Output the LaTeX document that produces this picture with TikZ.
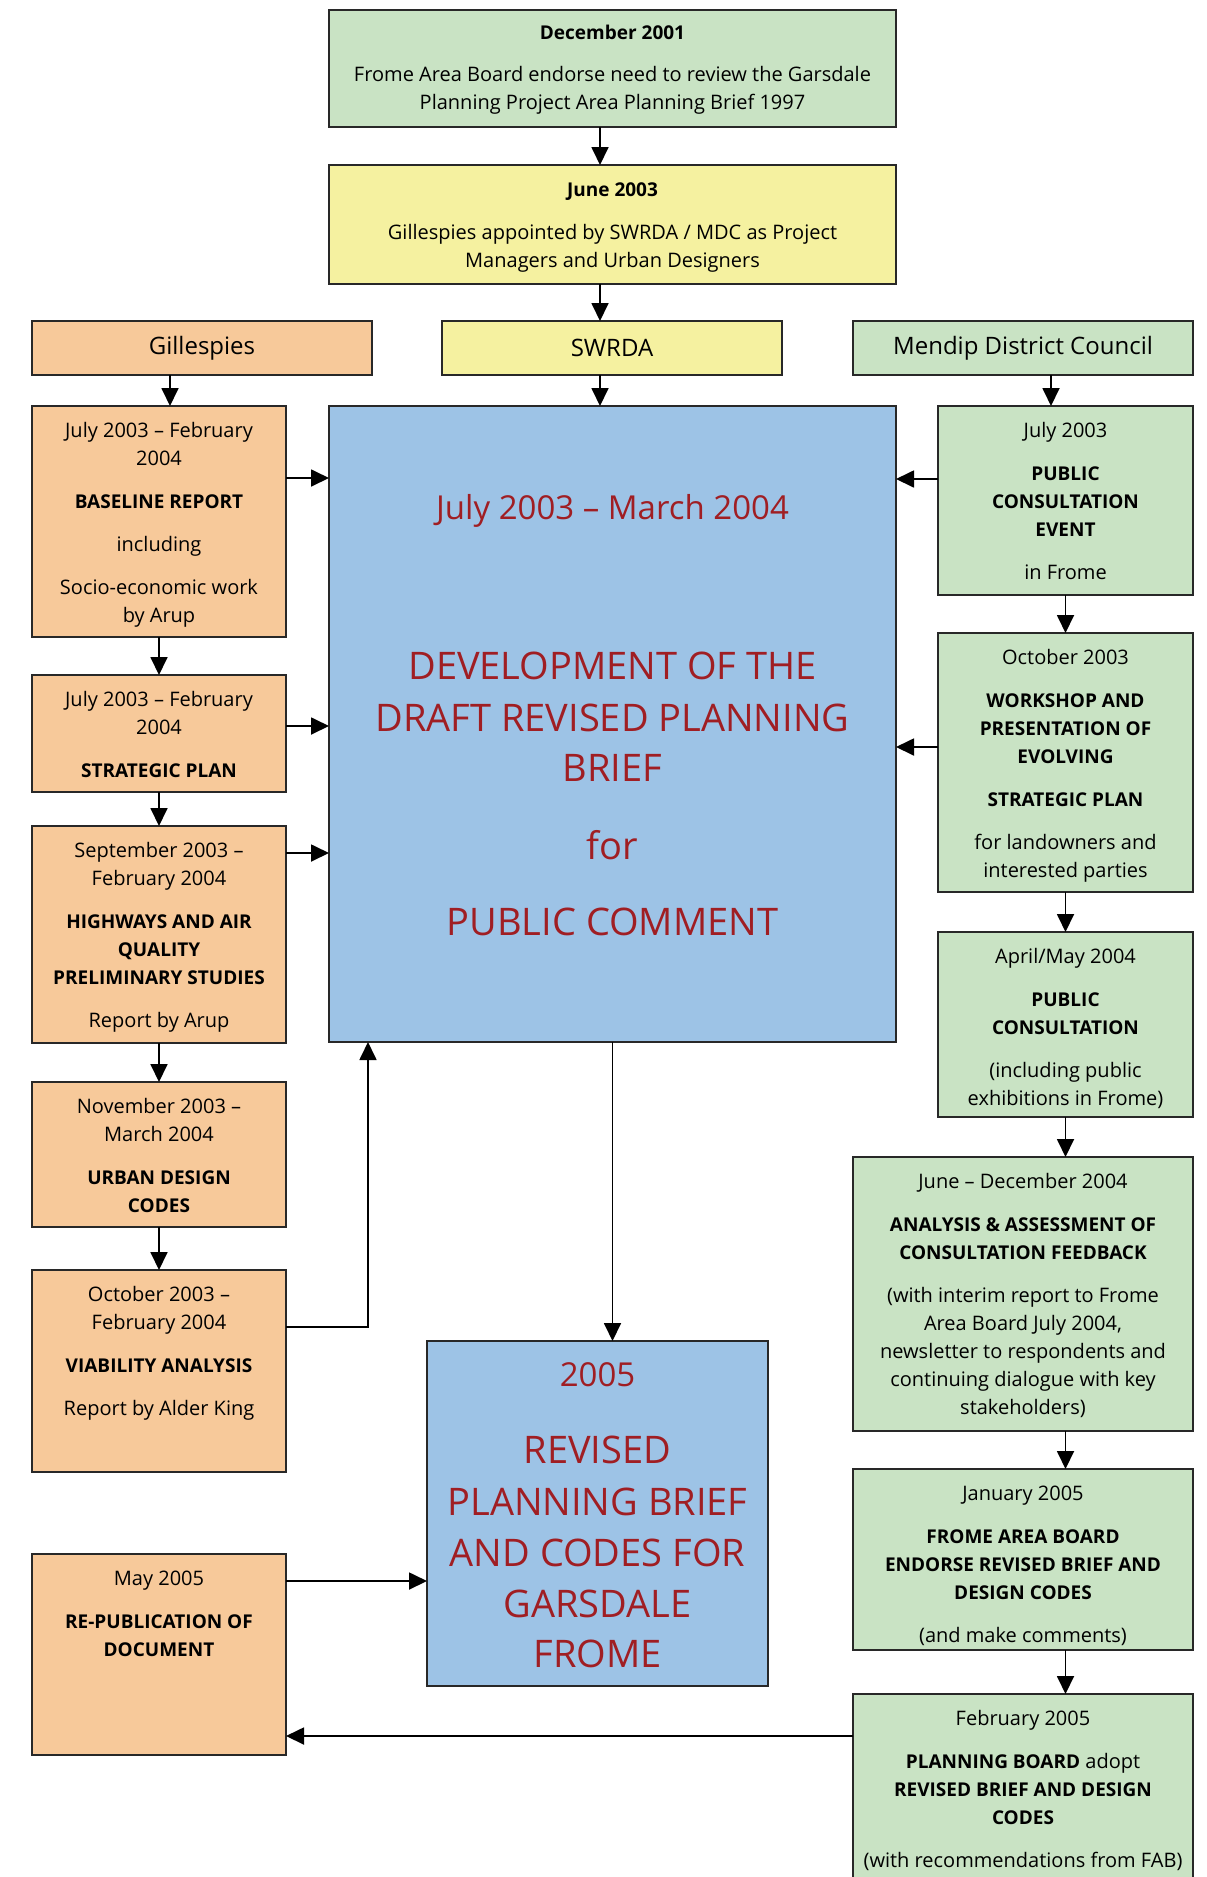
\documentclass[tikz,border=0pt]{standalone}
\usepackage{fontspec}
\setmainfont{Open Sans}
\usetikzlibrary{arrows.meta}
\definecolor{cgreen}{RGB}{201,227,196}
\definecolor{cyellow}{RGB}{245,241,160}
\definecolor{corange}{RGB}{247,201,154}
\definecolor{cblue}{RGB}{157,195,230}
\definecolor{cred}{RGB}{160,30,35}
\definecolor{cline}{RGB}{40,40,40}
\newcommand\hb[1]{{\fontsize{19}{28}\selectfont\bfseries #1}}
\begin{document}
\begin{tikzpicture}[x=1pt,y=-1pt,
  box/.style={draw=cline, line width=1.6pt, inner sep=0pt, outer sep=0pt},
  gbox/.style={box, fill=cgreen},
  ybox/.style={box, fill=cyellow},
  obox/.style={box, fill=corange},
  bbox/.style={box, fill=cblue},
  head/.style={font=\fontsize{24}{28}\selectfont},
  txt/.style={anchor=north, inner sep=0pt, align=center, font=\fontsize{20}{28}\selectfont},
  rbig/.style={anchor=base, inner sep=0pt, text=cred, font=\fontsize{38}{44}\selectfont},
  rmid/.style={anchor=base, inner sep=0pt, text=cred, font=\fontsize{33}{38}\selectfont},
  arr/.style={draw=black, line width=1.8pt, -{Triangle[width=17pt,length=18pt]}}
]
\useasboundingbox (0,0) rectangle (1207,1877);
\clip (0,0) rectangle (1207,1877);

% top boxes
\node[gbox, minimum width=567pt, minimum height=117pt] (T) at (612.5,68.5) {};
\node[txt] (Tt) at ([yshift=-10]T.north) {\strut\hb{December 2001}\\[14pt]Frome Area Board endorse need to review the Garsdale\\Planning Project Area Planning Brief 1997};
\node[ybox, minimum width=567pt, minimum height=119pt] (J) at (612.5,224.5) {};
\node[txt] (Jt) at ([yshift=-12]J.north) {\strut\hb{June 2003}\\[15pt]Gillespies appointed by SWRDA / MDC as Project\\Managers and Urban Designers};

% header boxes
\node[obox, head, minimum width=340pt, minimum height=54pt] (G) at (202,348) {Gillespies};
\node[ybox, head, minimum width=340pt, minimum height=54pt] (S) at (612,348) {SWRDA};
\node[gbox, head, minimum width=340pt, minimum height=54pt] (M) at (1023,348) {Mendip District Council};

% central boxes
\node[bbox, minimum width=567pt, minimum height=636pt] (B) at (612.5,724) {};
\node[rmid] (B1) at (612.5,519.5) {July 2003 – March 2004};
\node[rbig] (B2) at (612.5,679.5) {DEVELOPMENT OF THE};
\node[rbig] (B3) at (612.5,731.5) {DRAFT REVISED PLANNING};
\node[rbig] (B4) at (612.5,781.5) {BRIEF};
\node[rbig] (B5) at (612.5,859.5) {for};
\node[rbig] (B6) at (612.5,935.5) {PUBLIC COMMENT};

\node[bbox, minimum width=341pt, minimum height=345pt] (BB) at (597.5,1513.5) {};
\node[rmid] (BB1) at (597.5,1386.5) {2005};
\node[rbig] (BB2) at (597.5,1463.5) {REVISED};
\node[rbig] (BB3) at (597.5,1515.5) {PLANNING BRIEF};
\node[rbig] (BB4) at (597.5,1566.5) {AND CODES FOR};
\node[rbig] (BB5) at (597.5,1617.5) {GARSDALE};
\node[rbig] (BB6) at (597.5,1667.5) {FROME};

% left column
\node[obox, minimum width=254pt, minimum height=231pt] (L1) at (159,521.5) {};
\node[txt] (L1t) at ([yshift=-12]L1.north) {\strut July 2003 – February\\2004\\[15pt]\hb{BASELINE REPORT}\\[15pt]including\\[15pt]Socio-economic work\\by Arup};
\node[obox, minimum width=254pt, minimum height=117pt] (L2) at (159,733.5) {};
\node[txt] (L2t) at ([yshift=-12]L2.north) {\strut July 2003 – February\\2004\\[15pt]\hb{STRATEGIC PLAN}};
\node[obox, minimum width=254pt, minimum height=217pt] (L3) at (159,934.5) {};
\node[txt] (L3t) at ([yshift=-12]L3.north) {\strut September 2003 –\\February 2004\\[15pt]\hb{HIGHWAYS AND AIR}\\\hb{QUALITY}\\\hb{PRELIMINARY STUDIES}\\[15pt]Report by Arup};
\node[obox, minimum width=254pt, minimum height=145pt] (L4) at (159,1154.5) {};
\node[txt] (L4t) at ([yshift=-12]L4.north) {\strut November 2003 –\\March 2004\\[15pt]\hb{URBAN DESIGN}\\\hb{CODES}};
\node[obox, minimum width=254pt, minimum height=202pt] (L5) at (159,1371) {};
\node[txt] (L5t) at ([yshift=-12]L5.north) {\strut October 2003 –\\February 2004\\[15pt]\hb{VIABILITY ANALYSIS}\\[15pt]Report by Alder King};
\node[obox, minimum width=254pt, minimum height=201pt] (L6) at (159,1654.5) {};
\node[txt] (L6t) at ([yshift=-12]L6.north) {\strut May 2005\\[15pt]\hb{RE-PUBLICATION OF}\\\hb{DOCUMENT}};

% right column
\node[gbox, minimum width=255pt, minimum height=189pt] (R1) at (1065.5,500.5) {};
\node[txt] (R1t) at ([yshift=-12]R1.north) {\strut July 2003\\[15pt]\hb{PUBLIC}\\\hb{CONSULTATION}\\\hb{EVENT}\\[15pt]in Frome};
\node[gbox, minimum width=255pt, minimum height=259pt] (R2) at (1065.5,762.5) {};
\node[txt] (R2t) at ([yshift=-12]R2.north) {\strut October 2003\\[15pt]\hb{WORKSHOP AND}\\\hb{PRESENTATION OF}\\\hb{EVOLVING}\\[15pt]\hb{STRATEGIC PLAN}\\[15pt]for landowners and\\interested parties};
\node[gbox, minimum width=255pt, minimum height=185pt] (R3) at (1065.5,1024.5) {};
\node[txt] (R3t) at ([yshift=-12]R3.north) {\strut April/May 2004\\[15pt]\hb{PUBLIC}\\\hb{CONSULTATION}\\[15pt](including public\\exhibitions in Frome)};
\node[gbox, minimum width=340pt, minimum height=274pt] (R4) at (1023,1294) {};
\node[txt] (R4t) at ([yshift=-12]R4.north) {\strut June – December 2004\\[15pt]\hb{ANALYSIS \& ASSESSMENT OF}\\\hb{CONSULTATION FEEDBACK}\\[15pt](with interim report to Frome\\Area Board July 2004,\\newsletter to respondents and\\continuing dialogue with key\\stakeholders)};
\node[gbox, minimum width=340pt, minimum height=181pt] (R5) at (1023,1559.5) {};
\node[txt] (R5t) at ([yshift=-12]R5.north) {\strut January 2005\\[15pt]\hb{FROME AREA BOARD}\\\hb{ENDORSE REVISED BRIEF AND}\\\hb{DESIGN CODES}\\[15pt](and make comments)};
\node[gbox, minimum width=340pt, minimum height=206pt] (R6) at (1023,1797) {};
\node[txt] (R6t) at ([yshift=-12]R6.north) {\strut February 2005\\[15pt]\hb{PLANNING BOARD} adopt\\\hb{REVISED BRIEF AND DESIGN}\\\hb{CODES}\\[15pt](with recommendations from FAB)};

% connectors: top
\draw[arr] ([xshift=-12.5]T.south) -- ([xshift=-12.5]J.north);
\draw[arr] ([xshift=-12.5]J.south) -- ([xshift=-12]S.north);
\draw[arr] ([xshift=-12]S.south) -- ([xshift=-12.5]B.north);

% left column
\draw[arr] ([xshift=-32]G.south) -- ([xshift=11]L1.north);
\draw[arr] (L1.south) -- (L2.north);
\draw[arr] (L2.south) -- (L3.north);
\draw[arr] (L3.south) -- (L4.north);
\draw[arr] (L4.south) -- (L5.north);
\coordinate (l1o) at ([yshift=43.5]L1.east);
\draw[arr] (l1o) -- (l1o -| B.west);
\coordinate (l2o) at ([yshift=7.5]L2.east);
\draw[arr] (l2o) -- (l2o -| B.west);
\coordinate (l3o) at ([yshift=81.5]L3.east);
\draw[arr] (l3o) -- (l3o -| B.west);
\coordinate (l5o) at ([yshift=44]L5.east);
\draw[arr] (l5o) -| ([xshift=-244.5]B.south);
\coordinate (l6o) at ([yshift=73.5]L6.east);
\draw[arr] (l6o) -- (l6o -| BB.west);

% centre
\draw[arr] (B.south) -- (B.south |- BB.north);

% right column
\draw[arr] ([xshift=28]M.south) -- ([xshift=-14.5]R1.north);
\draw[arr] (R1.south) -- (R2.north);
\draw[arr] (R2.south) -- (R3.north);
\draw[arr] (R3.south) -- ([xshift=42.5]R4.north);
\draw[arr] ([xshift=42.5]R4.south) -- ([xshift=42.5]R5.north);
\draw[arr] ([xshift=42.5]R5.south) -- ([xshift=42.5]R6.north);
\coordinate (r1o) at ([yshift=21.5]R1.west);
\draw[arr] (r1o) -- (r1o -| B.east);
\coordinate (r2o) at ([yshift=15.5]R2.west);
\draw[arr] (r2o) -- (r2o -| B.east);
\coordinate (r6o) at ([yshift=61]R6.west);
\draw[arr] (r6o) -- (r6o -| L6.east);
\end{tikzpicture}
\end{document}
